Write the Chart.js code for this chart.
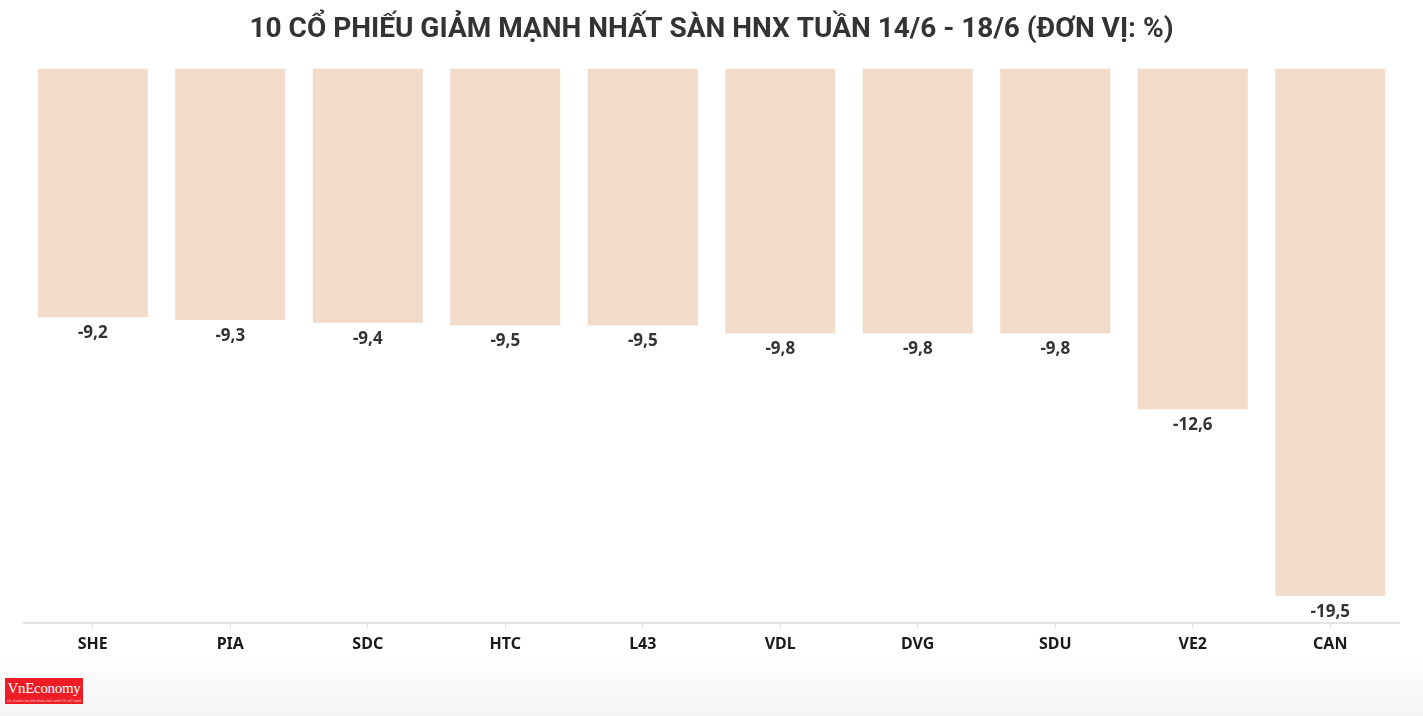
<!DOCTYPE html>
<html>
<head>
<meta charset="utf-8">
<script src="https://cdn.jsdelivr.net/npm/chart.js@4"></script>
<style>
  html, body { margin: 0; padding: 0; }
  body { width: 1423px; height: 716px; overflow: hidden; position: relative;
    background: linear-gradient(to bottom, #ffffff 0px, #ffffff 655px, #f4f4f4 716px); }
  #wrap { position: absolute; left: 0; top: 0; width: 1423px; height: 716px; }
  #logo { position: absolute; left: 5px; top: 678px; width: 78px; height: 26px; background: #ee1c25;
    color: #fff; font-family: "Liberation Serif", "DejaVu Serif", serif; font-size: 15px; line-height: 21px; text-align: center; letter-spacing: -0.3px; }
  #logo small { position: absolute; left: 2px; bottom: 1px; font-size: 3px; line-height: 3px; font-family: "DejaVu Sans"; color:#fdd; letter-spacing: 0; }
</style>
</head>
<body>
<div id="wrap"><canvas id="c" width="1423" height="716"></canvas></div>
<div id="logo">VnEconomy<small>CƠ QUAN CỦA HỘI KHOA HỌC KINH TẾ VIỆT NAM</small></div>
<script>
const titleText = "10 CỔ PHIẾU GIẢM MẠNH NHẤT SÀN HNX TUẦN 14/6 - 18/6 (ĐƠN VỊ: %)";
const categories = ["SHE", "PIA", "SDC", "HTC", "L43", "VDL", "DVG", "SDU", "VE2", "CAN"];
const values = [-9.2, -9.3, -9.4, -9.5, -9.5, -9.8, -9.8, -9.8, -12.6, -19.5];
const yMin = -20.5;
const yMax = 0;

const valueLabels = {
  id: 'valueLabels',
  afterDatasetsDraw(chart) {
    const ctx = chart.ctx;
    const meta = chart.getDatasetMeta(0);
    ctx.save();
    ctx.fillStyle = '#333333';
    ctx.font = 'bold 17px "Noto Sans", sans-serif';
    ctx.textAlign = 'center';
    ctx.textBaseline = 'middle';
    meta.data.forEach((bar, i) => {
      const txt = values[i].toFixed(1).replace('.', ',');
      ctx.fillText(txt, bar.x, bar.y + 16);
    });
    ctx.restore();
  }
};

new Chart(document.getElementById('c'), {
  type: 'bar',
  data: {
    labels: categories,
    datasets: [{
      data: values,
      backgroundColor: '#f2dbc8',
      borderWidth: 0,
      categoryPercentage: 1.0,
      barPercentage: 0.8
    }]
  },
  options: {
    responsive: false,
    animation: false,
    devicePixelRatio: 1,
    layout: { padding: { left: 24, right: 24, top: 0, bottom: 56 } },
    plugins: {
      legend: { display: false },
      tooltip: { enabled: false },
      title: {
        display: true,
        text: titleText,
        color: '#333333',
        font: { family: 'Roboto, "Noto Sans", sans-serif', size: 28, weight: 'bold' },
        padding: { top: 13, bottom: 22 }
      }
    },
    scales: {
      x: {
        grid: { display: true, drawOnChartArea: false, drawTicks: true, tickLength: 6, offset: false, color: '#e3e3e3' },
        border: { display: true, color: '#e3e3e3', width: 2 },
        ticks: { color: '#1a1a1a', font: { family: '"Noto Sans", sans-serif', size: 16, weight: 'bold' }, padding: 6 }
      },
      y: {
        display: false,
        min: yMin,
        max: yMax
      }
    }
  },
  plugins: [valueLabels]
});
</script>
</body>
</html>
